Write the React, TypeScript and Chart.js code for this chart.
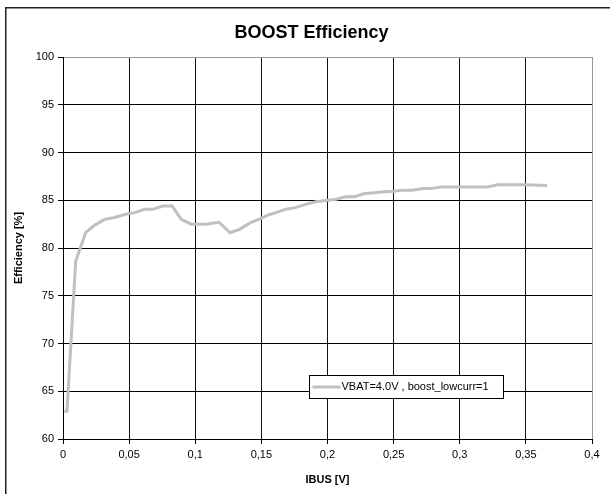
import React, { useEffect, useRef } from "react";
import { Chart, registerables } from "chart.js";

Chart.register(...registerables);

const chartTitle = "BOOST Efficiency";
const xAxisTitle = "IBUS [V]";
const yAxisTitle = "Efficiency [%]";
const seriesLabel = "VBAT=4.0V , boost_lowcurr=1";

const ibus = [
  0.001, 0.003, 0.0096, 0.0171, 0.024, 0.0315, 0.039, 0.0466, 0.0541, 0.0617,
  0.068, 0.0755, 0.0826, 0.0894, 0.097, 0.108, 0.118, 0.1264, 0.1335, 0.141,
  0.148, 0.155, 0.162, 0.1687, 0.175, 0.184, 0.191, 0.2, 0.2065, 0.214,
  0.22, 0.228, 0.2354, 0.243, 0.2505, 0.2568, 0.2643, 0.272, 0.278, 0.287,
  0.3, 0.321, 0.3286, 0.35, 0.366,
];
const efficiency = [
  62.9, 62.9, 78.6, 81.6, 82.4, 83.0, 83.2, 83.5, 83.7, 84.05,
  84.05, 84.4, 84.4, 83.0, 82.5, 82.5, 82.7, 81.6, 81.95, 82.6,
  83.0, 83.45, 83.75, 84.05, 84.2, 84.6, 84.84, 85.0, 85.1, 85.36,
  85.36, 85.7, 85.78, 85.9, 85.94, 86.06, 86.06, 86.24, 86.24, 86.4,
  86.4, 86.4, 86.62, 86.62, 86.55,
];

const FONT = "'Liberation Sans', Arial, Helvetica, sans-serif";
const LINE_COLOR = "#c0c0c0";

const framePlugin = {
  id: "frame",
  beforeDraw(chart: any) {
    const { ctx, width, height } = chart;
    ctx.save();
    ctx.fillStyle = "#ffffff";
    ctx.fillRect(0, 0, width, height);
    ctx.strokeStyle = "#222";
    ctx.lineWidth = 1.5;
    ctx.beginPath();
    ctx.moveTo(5.75, height);
    ctx.lineTo(5.75, 7.75);
    ctx.lineTo(width, 7.75);
    ctx.stroke();
    ctx.restore();
  },
  afterDraw(chart: any) {
    const { ctx, chartArea } = chart;
    ctx.save();
    // title
    ctx.fillStyle = "#000";
    ctx.font = `bold 18px ${FONT}`;
    ctx.textAlign = "center";
    ctx.textBaseline = "middle";
    ctx.fillText(chartTitle, 311.5, 33);
    // legend box
    const w = chartArea.right - chartArea.left;
    const h = chartArea.bottom - chartArea.top;
    const l = Math.round(chartArea.left + 0.4645 * w) + 0.5;
    const r = Math.round(chartArea.left + 0.831 * w) + 0.5;
    const t = Math.round(chartArea.top + 0.832 * h) + 0.5;
    const b = Math.round(chartArea.top + 0.892 * h) + 0.5;
    ctx.fillStyle = "#fff";
    ctx.fillRect(l, t, r - l, b - t);
    ctx.strokeStyle = "#000";
    ctx.lineWidth = 1;
    ctx.strokeRect(l, t, r - l, b - t);
    const cy = (t + b) / 2;
    ctx.strokeStyle = LINE_COLOR;
    ctx.lineWidth = 3;
    ctx.beginPath();
    ctx.moveTo(l + 3, cy);
    ctx.lineTo(l + 31, cy);
    ctx.stroke();
    ctx.fillStyle = "#000";
    ctx.font = `11px ${FONT}`;
    ctx.textAlign = "left";
    ctx.textBaseline = "middle";
    ctx.fillText(seriesLabel, l + 32, cy);
    ctx.restore();
  },
};

export default function App() {
  const ref = useRef<HTMLCanvasElement | null>(null);
  useEffect(() => {
    document.body.style.margin = "0";
    const canvas = ref.current;
    if (!canvas) return;
    const chart = new Chart(canvas, {
      type: "line",
      data: {
        datasets: [
          {
            label: seriesLabel,
            data: ibus.map((x, i) => ({ x, y: efficiency[i] })),
            borderColor: LINE_COLOR,
            backgroundColor: LINE_COLOR,
            borderWidth: 3,
            pointRadius: 0,
            tension: 0,
            fill: false,
          },
        ],
      },
      options: {
        animation: false,
        responsive: false,
        devicePixelRatio: 1,
        layout: { padding: { left: 0, top: 57, right: 18, bottom: 0 } },
        plugins: {
          legend: { display: false },
          tooltip: { enabled: false },
          title: { display: false },
        },
        scales: {
          x: {
            type: "linear",
            min: 0,
            max: 0.4,
            ticks: {
              stepSize: 0.05,
              padding: 4,
              color: "#000",
              font: { family: FONT, size: 11 },
              maxRotation: 0,
              callback: (v: any) => String(Math.round(Number(v) * 100) / 100).replace(".", ","),
            },
            grid: {
              color: (c: any) => (c.tick && Math.abs(c.tick.value - 0.4) < 1e-6 ? "#999" : "#111"),
              tickColor: "#000",
              tickLength: 5,
              lineWidth: 1,
            },
            border: { color: "#000", width: 1 },
            title: {
              display: true,
              text: xAxisTitle,
              color: "#000",
              font: { family: FONT, size: 11, weight: "bold" },
              padding: { top: 0, bottom: 7 },
            },
            afterFit: (s: any) => {
              s.height = 55;
            },
          },
          y: {
            type: "linear",
            min: 60,
            max: 100,
            ticks: {
              stepSize: 5,
              padding: 4,
              color: "#000",
              font: { family: FONT, size: 11 },
            },
            grid: {
              color: (c: any) => (c.tick && c.tick.value === 100 ? "#999" : "#000"),
              tickColor: "#000",
              tickLength: 5,
              lineWidth: 1,
            },
            border: { color: "#000", width: 1 },
            title: {
              display: true,
              text: yAxisTitle,
              color: "#000",
              font: { family: FONT, size: 11, weight: "bold" },
              padding: { top: 12, bottom: 0 },
            },
            afterFit: (s: any) => {
              s.width = 63;
            },
          },
        },
      },
      plugins: [framePlugin],
    });
    return () => chart.destroy();
  }, []);
  return (
    <div style={{ position: "absolute", left: 0, top: 0, width: 610, height: 494 }}>
      <canvas ref={ref} width={610} height={494} style={{ display: "block" }} />
    </div>
  );
}
